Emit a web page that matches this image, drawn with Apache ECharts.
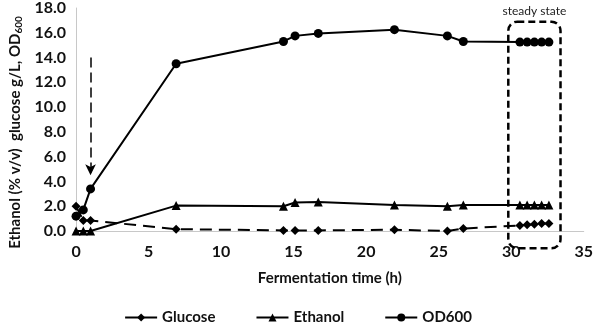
<!DOCTYPE html>
<html lang="en">
<head>
    <meta charset="UTF-8">
    <title>Fermentation</title>
    <style>
        html, body { margin: 0; padding: 0; background: #fff; }
        #main { width: 596px; height: 330px; }
    </style>
</head>
<body>
    <div id="main"></div>
</body>
<script src="https://cdn.jsdelivr.net/npm/echarts@6/dist/echarts.min.js"></script>
<script>
    // sampling times (h)
    const timeH = [0, 0.5, 1, 6.9, 14.3, 15.1, 16.7, 21.95, 25.6, 26.7, 30.6, 31.1, 31.6, 32.1, 32.6]
    const glucose = [2.0, 0.85, 0.85, 0.15, 0.05, 0.05, 0.05, 0.1, 0.0, 0.2, 0.45, 0.5, 0.55, 0.6, 0.6]
    const ethanol = [0, 0, 0, 2.05, 2.0, 2.3, 2.35, 2.1, 2.0, 2.1, 2.1, 2.1, 2.1, 2.1, 2.1]
    const od600 = [1.2, 1.7, 3.4, 13.5, 15.3, 15.75, 15.95, 16.25, 15.75, 15.3, 15.25, 15.25, 15.25, 15.25, 15.25]
    const yTicks = [0, 2, 4, 6, 8, 10, 12, 14, 16, 18]
    const xTicks = [0, 5, 10, 15, 20, 25, 30, 35]
    // inoculation arrow and steady-state window (data units)
    const arrowX = 1, arrowTop = 14.0, arrowBottom = 4.5
    const steadyBox = { x0: 29.8, x1: 33.4, y0: -1.4, y1: 16.9 }

    const font = 'Lato, "Liberation Sans", sans-serif'
    const pair = arr => timeH.map((t, i) => [t, arr[i]])

    const chart = echarts.init(document.getElementById('main'))
    chart.setOption({
        animation: false,
        grid: { left: 70, right: 12, top: 6, bottom: 99 },
        xAxis: {
            type: 'value', min: 0, max: 35, interval: 5,
            axisLine: { lineStyle: { color: '#c8c8c8' } },
            axisTick: { show: false },
            splitLine: { show: false },
            axisLabel: { color: '#111', fontWeight: 'bold', fontSize: 16, fontFamily: font, margin: 13 },
            name: 'Fermentation time (h)', nameLocation: 'middle', nameGap: 40,
            nameTextStyle: { color: '#111', fontWeight: 'bold', fontSize: 15, fontFamily: font }
        },
        yAxis: {
            type: 'value', min: 0, max: 18, interval: 2,
            axisLine: { show: true, lineStyle: { color: '#c8c8c8' } },
            axisTick: { show: false },
            splitLine: { show: false },
            axisLabel: { color: '#111', fontWeight: 'bold', fontSize: 16, fontFamily: font, margin: 10,
                formatter: v => v.toFixed(1) },
            name: '{m|Ethanol (% v/v)  glucose g/L, OD}{s|600}', nameLocation: 'middle', nameGap: 50,
            nameTextStyle: {
                padding: [0, 26, 0, 0],
                rich: {
                    m: { color: '#111', fontWeight: 'bold', fontSize: 15, fontFamily: font },
                    s: { color: '#111', fontWeight: 'bold', fontSize: 10, fontFamily: font, verticalAlign: 'bottom', padding: [6, 0, 0, 0] }
                }
            }
        },
        legend: {
            bottom: 0, itemGap: 40, itemWidth: 32, itemHeight: 10,
            lineStyle: { type: 'solid' },
            textStyle: { color: '#111', fontWeight: 'bold', fontSize: 15, fontFamily: font },
            data: ['Glucose', 'Ethanol', 'OD600']
        },
        series: [
            {
                name: 'Glucose', type: 'line', data: pair(glucose),
                symbol: 'diamond', symbolSize: 9, color: '#000',
                lineStyle: { color: '#000', width: 2, type: [12, 7] }, itemStyle: { color: '#000' },
                markLine: {
                    silent: true, symbol: ['none', 'arrow'], symbolSize: [8, 11],
                    label: { show: false },
                    lineStyle: { color: '#000', width: 1.5, type: [10, 5] },
                    data: [[{ coord: [arrowX, arrowTop] }, { coord: [arrowX, arrowBottom] }]]
                }
            },
            {
                name: 'Ethanol', type: 'line', data: pair(ethanol),
                symbol: 'triangle', symbolSize: 9, color: '#000',
                lineStyle: { color: '#000', width: 2 }, itemStyle: { color: '#000' }
            },
            {
                name: 'OD600', type: 'line', data: pair(od600),
                symbol: 'circle', symbolSize: 9, color: '#000',
                lineStyle: { color: '#000', width: 2 }, itemStyle: { color: '#000' }
            }
        ]
    })

    // steady-state dashed rounded box + label, placed through the axis scales
    const p0 = chart.convertToPixel({ gridIndex: 0 }, [steadyBox.x0, steadyBox.y1])
    const p1 = chart.convertToPixel({ gridIndex: 0 }, [steadyBox.x1, steadyBox.y0])
    chart.setOption({
        graphic: [
            {
                type: 'rect', z: 100,
                shape: { x: p0[0], y: p0[1], width: p1[0] - p0[0], height: p1[1] - p0[1], r: 9 },
                style: { fill: 'none', stroke: '#000', lineWidth: 2.5, lineDash: [7, 4] }
            },
            {
                type: 'text', z: 100,
                x: (p0[0] + p1[0]) / 2, y: 11,
                style: { text: 'steady state', fill: '#222', font: '12px ' + font, textAlign: 'center', textVerticalAlign: 'middle' }
            }
        ]
    })
</script>
</html>
